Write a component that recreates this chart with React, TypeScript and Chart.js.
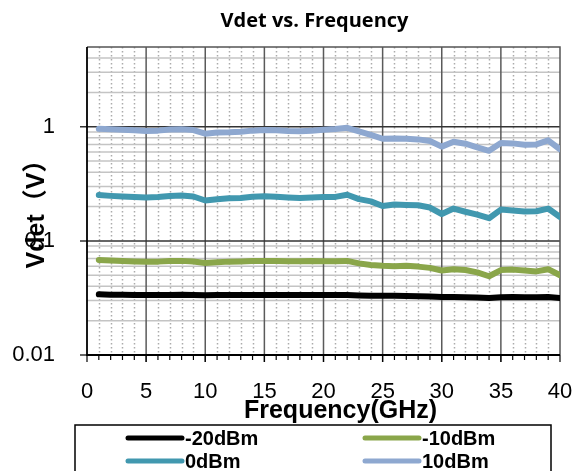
import React, { useEffect, useRef } from "react";
import { Chart, registerables } from "chart.js";

Chart.register(...registerables);

const FREQ_GHZ = [1, 2, 3, 4, 5, 6, 7, 8, 9, 10, 11, 12, 13, 14, 15, 16, 17, 18, 19, 20, 21, 22, 23, 24, 25, 26, 27, 28, 29, 30, 31, 32, 33, 34, 35, 36, 37, 38, 39, 40];

const VDET_NEG20 = [0.034, 0.0338, 0.0337, 0.0336, 0.0335, 0.0336, 0.0336, 0.0337, 0.0336, 0.0334, 0.0335, 0.0336, 0.0336, 0.0336, 0.0336, 0.0336, 0.0335, 0.0335, 0.0335, 0.0335, 0.0335, 0.0336, 0.0333, 0.0331, 0.033, 0.033, 0.0329, 0.0327, 0.0326, 0.0322, 0.0323, 0.0321, 0.0319, 0.0316, 0.0321, 0.0322, 0.0321, 0.032, 0.0322, 0.0316];

const VDET_NEG10 = [0.068, 0.0672, 0.0665, 0.066, 0.0655, 0.0658, 0.0665, 0.0668, 0.066, 0.064, 0.065, 0.0658, 0.066, 0.0665, 0.0668, 0.0666, 0.0664, 0.0664, 0.0665, 0.0662, 0.0664, 0.0668, 0.0635, 0.0615, 0.0605, 0.06, 0.0605, 0.0595, 0.058, 0.055, 0.0565, 0.0555, 0.053, 0.049, 0.0555, 0.056, 0.055, 0.054, 0.0565, 0.05];

const VDET_0 = [0.252, 0.248, 0.245, 0.242, 0.24, 0.242, 0.247, 0.25, 0.245, 0.226, 0.232, 0.236, 0.238, 0.244, 0.246, 0.244, 0.24, 0.237, 0.24, 0.242, 0.243, 0.254, 0.232, 0.222, 0.202, 0.208, 0.206, 0.205, 0.196, 0.172, 0.192, 0.18, 0.17, 0.158, 0.188, 0.185, 0.181, 0.182, 0.192, 0.162];

const VDET_10 = [0.96, 0.95, 0.94, 0.93, 0.92, 0.925, 0.945, 0.95, 0.935, 0.87, 0.89, 0.895, 0.905, 0.925, 0.935, 0.93, 0.92, 0.915, 0.925, 0.94, 0.955, 0.98, 0.91, 0.85, 0.785, 0.79, 0.785, 0.775, 0.75, 0.67, 0.74, 0.71, 0.66, 0.615, 0.72, 0.715, 0.695, 0.7, 0.76, 0.635];

const SERIES_LABELS = ["-20dBm", "-10dBm", "0dBm", "10dBm"];
const SERIES_VALUES = [VDET_NEG20, VDET_NEG10, VDET_0, VDET_10];
const SERIES_COLORS = ["#000000", "#8AA64A", "#4198AF", "#8EA8D0"];

const X_TICKS = [0, 5, 10, 15, 20, 25, 30, 35, 40];
const Y_TICKS = [0.01, 0.1, 1];
const X_MIN = 0;
const X_MAX = 40;
const Y_MIN = 0.01;
const Y_MAX = 5;

const CHART_TITLE = "Vdet vs. Frequency";
const X_TITLE = "Frequency(GHz)";
const Y_TITLE = "Vdet（V）";

const SANS = "'Liberation Sans', Arial, 'Noto Sans CJK SC', sans-serif";
const TITLE_FONT = "'Open Sans', 'Liberation Sans', sans-serif";

const gridPlugin = {
  id: "excelGrid",
  beforeDatasetsDraw(chart: any) {
    const { ctx, chartArea, scales } = chart;
    const { left, right, top, bottom } = chartArea;
    const xs = scales.x;
    const ys = scales.y;
    ctx.save();
    ctx.lineCap = "butt";
    // minor vertical (dotted)
    ctx.strokeStyle = "#ababab";
    ctx.lineWidth = 1.5;
    ctx.setLineDash([1.5, 2.5]);
    for (let f = X_MIN + 1; f < X_MAX; f++) {
      if (f % 5 === 0) continue;
      const px = Math.round(xs.getPixelForValue(f)) + 0.5;
      ctx.beginPath();
      ctx.moveTo(px, top);
      ctx.lineTo(px, bottom);
      ctx.stroke();
    }
    ctx.setLineDash([]);
    // minor horizontal
    ctx.strokeStyle = "#c4c4c4";
    ctx.lineWidth = 1.5;
    for (const d of Y_TICKS) {
      for (let m = 2; m <= 9; m++) {
        const v = m * d;
        if (v >= Y_MAX) continue;
        const py = ys.getPixelForValue(v);
        ctx.beginPath();
        ctx.moveTo(left, py);
        ctx.lineTo(right, py);
        ctx.stroke();
      }
    }
    // major vertical
    ctx.strokeStyle = "#5a5a5a";
    ctx.lineWidth = 1.5;
    for (const t of X_TICKS) {
      if (t === X_MIN || t === X_MAX) continue;
      const px = xs.getPixelForValue(t);
      ctx.beginPath();
      ctx.moveTo(px, top);
      ctx.lineTo(px, bottom + 7);
      ctx.stroke();
    }
    // major horizontal
    ctx.strokeStyle = "#333333";
    for (const t of Y_TICKS) {
      const py = ys.getPixelForValue(t);
      ctx.beginPath();
      ctx.moveTo(left - 7, py);
      ctx.lineTo(right, py);
      ctx.stroke();
    }
    // minor x tick marks
    ctx.strokeStyle = "#000000";
    ctx.lineWidth = 1.2;
    for (let f = X_MIN; f <= X_MAX; f++) {
      const px = xs.getPixelForValue(f);
      ctx.beginPath();
      ctx.moveTo(px, bottom);
      ctx.lineTo(px, bottom + (f % 5 === 0 ? 7 : 5));
      ctx.stroke();
    }
    // frame
    ctx.strokeStyle = "#555555";
    ctx.lineWidth = 1.5;
    ctx.beginPath();
    ctx.moveTo(left, top);
    ctx.lineTo(right, top);
    ctx.lineTo(right, bottom);
    ctx.stroke();
    ctx.strokeStyle = "#000000";
    ctx.lineWidth = 1.8;
    ctx.beginPath();
    ctx.moveTo(left, top);
    ctx.lineTo(left, bottom);
    ctx.lineTo(right, bottom);
    ctx.stroke();
    ctx.restore();
  },
};

const textPlugin = {
  id: "excelText",
  afterDraw(chart: any) {
    const { ctx, chartArea } = chart;
    const { left, right, top, bottom } = chartArea;
    const cx = (left + right) / 2;
    ctx.save();
    ctx.fillStyle = "#000000";
    ctx.textAlign = "center";
    ctx.textBaseline = "middle";
    // chart title
    ctx.font = `bold 20px ${TITLE_FONT}`;
    ctx.fillText(CHART_TITLE, cx - 9, top - 26);
    // x title
    ctx.font = `bold 25px ${SANS}`;
    ctx.fillText(X_TITLE, cx + 17, bottom + 56);
    // y title
    ctx.save();
    ctx.translate(left - 50, (top + bottom) / 2 + 7);
    ctx.rotate(-Math.PI / 2);
    ctx.font = `bold 25px ${SANS}`;
    ctx.fillText(Y_TITLE, 0, 0);
    ctx.restore();
    // legend
    const boxL = left - 12;
    const boxR = right - 9;
    const boxT = bottom + 70;
    ctx.strokeStyle = "#000000";
    ctx.lineWidth = 1.5;
    ctx.strokeRect(boxL, boxT, boxR - boxL, 60);
    ctx.font = `bold 20px ${SANS}`;
    ctx.textAlign = "left";
    const colX = [boxL + 53, boxL + 290];
    const rowY = [boxT + 13, boxT + 36];
    SERIES_LABELS.forEach((lab, i) => {
      const lx = colX[i % 2];
      const ly = rowY[Math.floor(i / 2)];
      ctx.strokeStyle = SERIES_COLORS[i];
      ctx.lineWidth = 5;
      ctx.lineCap = "round";
      ctx.beginPath();
      ctx.moveTo(lx, ly);
      ctx.lineTo(lx + 54, ly);
      ctx.stroke();
      ctx.fillText(lab, lx + 57, ly + 1);
    });
    ctx.restore();
  },
};

export default function App() {
  const canvasRef = useRef<HTMLCanvasElement | null>(null);

  useEffect(() => {
    const canvas = canvasRef.current;
    if (!canvas) return;
    const datasets = SERIES_LABELS.map((label, i) => ({
      label,
      data: FREQ_GHZ.map((f, k) => ({ x: f, y: SERIES_VALUES[i][k] })),
      borderColor: SERIES_COLORS[i],
      backgroundColor: SERIES_COLORS[i],
      borderWidth: 6,
      pointRadius: 0,
      tension: 0,
      borderJoinStyle: "round" as const,
      borderCapStyle: "round" as const,
      fill: false,
    }));
    const chart = new Chart(canvas, {
      type: "line",
      data: { datasets },
      options: {
        animation: false,
        responsive: true,
        maintainAspectRatio: false,
        layout: { padding: { top: 47, right: 18, left: 0, bottom: 0 } },
        plugins: {
          legend: { display: false },
          title: { display: false },
          tooltip: { enabled: false },
        },
        scales: {
          x: {
            type: "linear",
            min: X_MIN,
            max: X_MAX,
            grid: { display: false },
            border: { display: false },
            afterBuildTicks: (scale: any) => {
              scale.ticks = X_TICKS.map((value) => ({ value }));
            },
            afterFit: (scale: any) => {
              scale.height = 116;
              scale.paddingLeft = 0;
              scale.paddingRight = 0;
            },
            ticks: {
              autoSkip: false,
              maxRotation: 0,
              padding: 16,
              color: "#000000",
              font: { family: SANS, size: 22 },
            },
          },
          y: {
            type: "logarithmic",
            min: Y_MIN,
            max: Y_MAX,
            grid: { display: false },
            border: { display: false },
            afterBuildTicks: (scale: any) => {
              scale.ticks = Y_TICKS.map((value) => ({ value }));
            },
            afterFit: (scale: any) => {
              scale.width = 87;
              scale.paddingTop = 0;
              scale.paddingBottom = 0;
            },
            ticks: {
              padding: 24,
              color: "#000000",
              font: { family: SANS, size: 22 },
              callback: (v: any) => String(v),
            },
          },
        },
      },
      plugins: [gridPlugin, textPlugin],
    });
    return () => chart.destroy();
  }, []);

  return (
    <div style={{ position: "fixed", left: 0, top: 0, width: 578, height: 471, background: "#ffffff" }}>
      <canvas ref={canvasRef} />
    </div>
  );
}
